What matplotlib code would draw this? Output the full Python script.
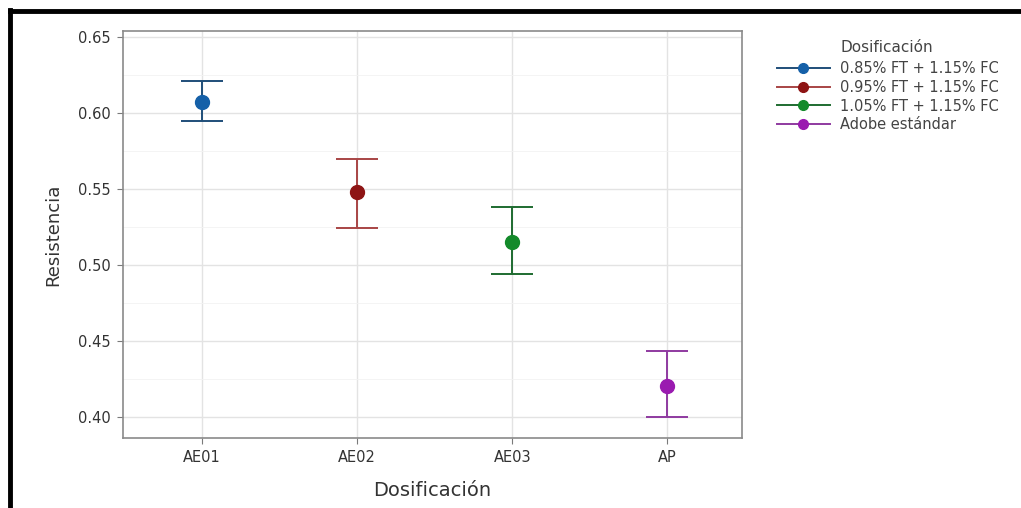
import matplotlib
matplotlib.use("Agg")
import matplotlib.pyplot as plt
from matplotlib.lines import Line2D
import numpy as np

# data
categories = ["AE01", "AE02", "AE03", "AP"]
series = ["0.85% FT + 1.15% FC", "0.95% FT + 1.15% FC",
          "1.05% FT + 1.15% FC", "Adobe estándar"]
means = [0.607, 0.548, 0.515, 0.420]
upper = [0.621, 0.570, 0.538, 0.443]
lower = [0.595, 0.524, 0.494, 0.400]

point_colors = ["#1560a8", "#8e1414", "#138a2a", "#9a1ab0"]
bar_colors = ["#1f4e79", "#a84545", "#1e6b30", "#8f3aa0"]

plt.rcParams['font.family'] = ['DejaVu Sans']

fig = plt.figure(figsize=(10.21, 5.08), dpi=100)
ax = fig.add_axes([0.1205, 0.138, 0.606, 0.801])

x = np.arange(1, len(categories) + 1)
for i in range(len(categories)):
    ax.errorbar(x[i], means[i],
                yerr=[[means[i] - lower[i]], [upper[i] - means[i]]],
                fmt='none', ecolor=bar_colors[i], elinewidth=1.4,
                capsize=15, capthick=1.4, zorder=3)
    ax.plot(x[i], means[i], 'o', color=point_colors[i], markersize=10,
            zorder=4)

ax.set_xlim(0.49, 4.48)
ax.set_ylim(0.386, 0.654)
ax.set_xticks(x)
ax.set_xticklabels(categories)
ax.set_yticks([0.40, 0.45, 0.50, 0.55, 0.60, 0.65])
ax.set_yticklabels(["0.40", "0.45", "0.50", "0.55", "0.60", "0.65"])
ax.set_yticks([0.425, 0.475, 0.525, 0.575, 0.625], minor=True)
ax.set_xticks([], minor=True)
ax.grid(True, which='major', color='#e3e3e3', linewidth=1.0, zorder=0)
ax.grid(True, which='minor', axis='y', color='#f2f2f2', linewidth=0.6,
        zorder=0)
ax.set_axisbelow(True)
for s in ax.spines.values():
    s.set_color('#8a8a8a')
    s.set_linewidth(1.2)
ax.tick_params(axis='both', which='major', colors='#7a7a7a', length=4,
               labelsize=10.5, labelcolor='#333333')
ax.tick_params(axis='x', pad=4.5)
ax.tick_params(axis='y', pad=5)
ax.tick_params(axis='y', which='minor', length=0)

ax.set_xlabel("Dosificación", fontsize=14, color='#333333', labelpad=12)
ax.set_ylabel("Resistencia", fontsize=13, color='#333333', labelpad=11)

handles = [Line2D([0], [0], color=bar_colors[i], lw=1.4, marker='o',
                  markerfacecolor=point_colors[i],
                  markeredgecolor=point_colors[i], markersize=7)
           for i in range(len(series))]
leg = fig.legend(handles, series, loc='upper left',
                 bbox_to_anchor=(777 / 1021, 1 - 61 / 508),
                 frameon=False, fontsize=10.5, borderpad=0,
                 borderaxespad=0, handlelength=3.6, labelspacing=0.26,
                 handletextpad=0.7)
for t in leg.get_texts():
    t.set_color('#444444')
fig.text(840 / 1021, 1 - 47 / 508, "Dosificación", fontsize=11,
         color='#444444', ha='left', va='center')

# black frame on the left and top of the picture
fig.add_artist(Line2D([0.0098, 0.0098], [0.0, 0.9795], color='black',
                      lw=3.5, transform=fig.transFigure))
fig.add_artist(Line2D([0.0098, 1.0], [0.978, 0.978], color='black',
                      lw=3.5, transform=fig.transFigure))

fig.savefig("out.png", dpi=100)
